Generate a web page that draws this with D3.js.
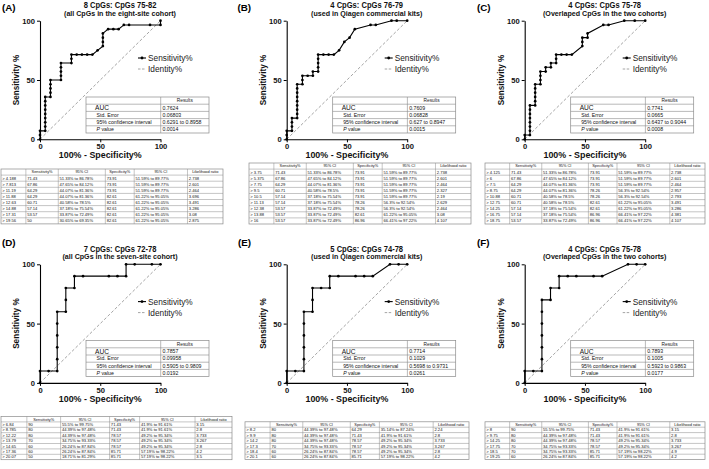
<!DOCTYPE html>
<html>
<head>
<meta charset="utf-8">
<script src="https://cdn.jsdelivr.net/npm/d3@7/dist/d3.min.js"></script>
<style>
  body { margin: 0; background: #fff; }
  svg { display: block; }
  text { font-family: "Liberation Sans", Arial, Helvetica, sans-serif; }
</style>
</head>
<body>
<svg id="chart" width="709" height="469"></svg>
<script>
// ---- data ----
var panelLetters = ["(A)", "(B)", "(C)", "(D)", "(E)", "(F)"]
var titles = ["8 CpGs: CpGs 75-82", "4 CpGs: CpGs 76-79", "4 CpGs: CpGs 75-78",
              "7 CpGs: CpGs 72-78", "5 CpGs: CpGs 74-78", "4 CpGs: CpGs 75-78"]
var subtitles = ["(all CpGs in the eight-site cohort)", "(used in Qiagen commercial kits)",
                 "(Overlaped CpGs in the two cohorts)", "(all CpGs in the seven-site cohort)",
                 "(used in Qiagen commercial kits)", "(Overlaped CpGs in the two cohorts)"]

// number of cases / controls behind each curve
var nCases = [28, 28, 28, 10, 10, 10]
var nControls = [23, 23, 23, 14, 14, 14]

// ROC points as [false positives, true positives]
var rocA = [[0,0],[0,1],[0,2],[1,2],[1,3],[1,4],[1,5],[1,6],[1,7],[1,8],[1,9],[1,10],[2,10],[2,11],[2,12],[2,13],[2,14],
            [4,14],[4,15],[4,16],[4,17],[4,18],[6,18],[6,19],[6,20],[7,20],[8,20],[9,20],[10,20],[11,21],[12,22],[12,23],
            [12,24],[12,25],[13,26],[14,26],[15,26],[16,27],[17,27],[21,27],[23,27],[23,28]]
var rocB = [[0,0],[0,1],[0,2],[1,2],[1,3],[1,4],[1,5],[2,5],[2,6],[2,7],[2,8],[2,9],[2,10],[2,11],[2,12],[2,13],
            [3,13],[3,14],[3,15],[4,15],[5,15],[5,16],[6,16],[6,17],[6,18],[6,19],[6,20],[7,20],[8,20],[9,20],
            [10,21],[11,23],[12,24],[13,26],[16,27],[17,27],[20,28],[21,28],[23,28]]
var rocC = [[0,0],[0,1],[1,1],[1,2],[1,3],[1,4],[1,5],[1,6],[1,7],[1,8],[2,8],[2,9],[2,10],[2,11],[2,12],[2,13],
            [3,13],[3,14],[3,15],[3,16],[4,16],[4,17],[5,17],[5,18],[6,18],[6,19],[6,20],[7,20],[8,20],[9,20],
            [11,22],[11,23],[11,24],[12,24],[12,25],[15,27],[16,27],[19,28],[21,28],[23,28]]
var rocD = [[0,0],[0,1],[1,1],[2,1],[2,2],[2,3],[2,4],[2,5],[2,6],[3,6],[3,7],[3,8],[4,8],[4,9],[5,9],[8,9],[9,9],
            [10,9],[10,10],[11,10],[13,10],[14,10]]
var rocE = [[0,0],[0,1],[1,1],[2,1],[2,2],[2,3],[2,4],[2,5],[2,6],[3,6],[3,7],[3,8],[4,8],[5,8],[5,9],[6,9],[8,9],
            [9,9],[10,9],[12,10],[13,10],[14,10]]
var rocF = [[0,0],[0,1],[1,1],[2,1],[2,2],[2,3],[2,4],[2,5],[2,6],[2,7],[3,7],[3,8],[4,8],[4,9],[5,9],[6,9],[8,9],
            [9,9],[12,10],[13,10],[14,10]]

// area under curve results
var aucValues = ["0.7624", "0.7609", "0.7741", "0.7857", "0.7714", "0.7893"]
var stdErrors = ["0.06803", "0.06828", "0.0665", "0.09958", "0.1029", "0.1005"]
var ciRanges = ["0.6291 to 0.8958", "0.627 to 0.8947", "0.6437 to 0.9044",
                "0.5905 to 0.9809", "0.5698 to 0.9731", "0.5923 to 0.9863"]
var pValues = ["0.0014", "0.0015", "0.0008", "0.0192", "0.0261", "0.0177"]

// cut-off tables
var tableHeader = ["", "Sensitivity%", "95% CI", "Specificity%", "95% CI", "Likelihood ratio"]
var tableA = [
  ["> 4.188", "71.43", "51.33% to 86.78%", "73.91", "51.59% to 89.77%", "2.738"],
  ["> 7.813", "67.86", "47.65% to 84.12%", "73.91", "51.59% to 89.77%", "2.601"],
  ["> 11.19", "64.29", "44.07% to 81.36%", "73.91", "51.59% to 89.77%", "2.464"],
  ["> 11.88", "64.29", "44.07% to 81.36%", "82.61", "61.22% to 95.05%", "3.696"],
  ["> 12.63", "60.71", "40.58% to 78.5%", "82.61", "61.22% to 95.05%", "3.491"],
  ["> 14.88", "57.14", "37.18% to 75.54%", "82.61", "61.22% to 95.05%", "3.286"],
  ["> 17.31", "53.57", "33.87% to 72.49%", "82.61", "61.22% to 95.05%", "3.08"],
  ["> 19.56", "50", "30.65% to 69.35%", "82.61", "61.22% to 95.05%", "2.875"]]
var tableB = [
  ["> 3.75", "71.43", "51.33% to 86.78%", "73.91", "51.59% to 89.77%", "2.738"],
  ["> 5.375", "67.86", "47.65% to 84.12%", "73.91", "51.59% to 89.77%", "2.601"],
  ["> 7.75", "64.29", "44.07% to 81.36%", "73.91", "51.59% to 89.77%", "2.464"],
  ["> 9.5", "60.71", "40.58% to 78.5%", "73.91", "51.59% to 89.77%", "2.327"],
  ["> 10.5", "57.14", "37.18% to 75.54%", "73.91", "51.59% to 89.77%", "2.19"],
  ["> 11.13", "57.14", "37.18% to 75.54%", "78.26", "56.3% to 92.54%", "2.629"],
  ["> 12.38", "53.57", "33.87% to 72.49%", "78.26", "56.3% to 92.54%", "2.464"],
  ["> 13.88", "53.57", "33.87% to 72.49%", "82.61", "61.22% to 95.05%", "3.08"],
  ["> 16", "53.57", "33.87% to 72.49%", "86.96", "66.41% to 97.22%", "4.107"]]
var tableC = [
  ["> 4.125", "71.43", "51.33% to 86.78%", "73.91", "51.59% to 89.77%", "2.738"],
  ["> 6", "67.86", "47.65% to 84.12%", "73.91", "51.59% to 89.77%", "2.601"],
  ["> 7.5", "64.29", "44.07% to 81.36%", "73.91", "51.59% to 89.77%", "2.464"],
  ["> 8.75", "64.29", "44.07% to 81.36%", "78.26", "56.3% to 92.54%", "2.957"],
  ["> 10.88", "60.71", "40.58% to 78.5%", "78.26", "56.3% to 92.54%", "2.793"],
  ["> 12.75", "60.71", "40.58% to 78.5%", "82.61", "61.22% to 95.05%", "3.491"],
  ["> 14.25", "57.14", "37.18% to 75.54%", "82.61", "61.22% to 95.05%", "3.286"],
  ["> 16.75", "57.14", "37.18% to 75.54%", "86.96", "66.41% to 97.22%", "4.381"],
  ["> 18.75", "53.57", "33.87% to 72.49%", "86.96", "66.41% to 97.22%", "4.107"]]
var tableD = [
  ["> 6.84", "90", "55.5% to 99.75%", "71.43", "41.9% to 91.61%", "3.15"],
  ["> 8.785", "80", "44.39% to 97.48%", "71.43", "41.9% to 91.61%", "2.8"],
  ["> 12.22", "80", "44.39% to 97.48%", "78.57", "49.2% to 95.34%", "3.733"],
  ["> 13.79", "70", "34.75% to 93.33%", "78.57", "49.2% to 95.34%", "3.267"],
  ["> 14.65", "60", "26.24% to 87.84%", "78.57", "49.2% to 95.34%", "2.8"],
  ["> 17.36", "60", "26.24% to 87.84%", "85.71", "57.19% to 98.22%", "4.2"],
  ["> 20.07", "50", "18.71% to 81.29%", "85.71", "57.19% to 98.22%", "3.5"]]
var tableE = [
  ["> 8.2", "80", "44.39% to 97.48%", "64.29", "35.14% to 87.24%", "2.24"],
  ["> 9.9", "80", "44.39% to 97.48%", "71.43", "41.9% to 91.61%", "2.8"],
  ["> 14.2", "80", "44.39% to 97.48%", "78.57", "49.2% to 95.34%", "3.733"],
  ["> 17.3", "70", "34.75% to 93.33%", "78.57", "49.2% to 95.34%", "3.267"],
  ["> 18.4", "60", "26.24% to 87.84%", "78.57", "49.2% to 95.34%", "2.8"],
  ["> 20.1", "60", "26.24% to 87.84%", "85.71", "57.19% to 98.22%", "4.2"]]
var tableF = [
  ["> 8", "90", "55.5% to 99.75%", "71.43", "41.9% to 91.61%", "3.15"],
  ["> 9.75", "80", "44.39% to 97.48%", "71.43", "41.9% to 91.61%", "2.8"],
  ["> 14.25", "80", "44.39% to 97.48%", "78.57", "49.2% to 95.34%", "3.733"],
  ["> 17.75", "70", "34.75% to 93.33%", "78.57", "49.2% to 95.34%", "3.267"],
  ["> 18.5", "70", "34.75% to 93.33%", "85.71", "57.19% to 98.22%", "4.9"],
  ["> 19.25", "60", "26.24% to 87.84%", "85.71", "57.19% to 98.22%", "4.2"]]

var rocs = [rocA, rocB, rocC, rocD, rocE, rocF]
var tables = [tableA, tableB, tableC, tableD, tableE, tableF]

// ---- layout ----
var plotW = 120.5, plotH = 118.6
var origins = [[40, 20.7], [286.7, 20.7], [524.7, 20.7], [40, 264.3], [286.7, 264.3], [524.7, 264.3]]
var letterPos = [[2, 10.5], [237.5, 10.5], [477, 10.5], [2, 245.5], [238, 245.5], [477, 245.5]]
// x, y, width, row height
var tableBoxes = [[1, 169, 222, 6.1], [249, 163, 222, 6.1], [485, 163, 220, 6.1],
                  [1, 416.5, 231, 5.4], [245, 421.8, 224, 5.4], [485, 421.8, 220, 5.4]]
var colFracs = [0, 0.112, 0.258, 0.47, 0.6, 0.84, 1]
var gridColor = "#8a8a8a"

var svg = d3.select("#chart")
svg.append("rect").attr("width", 709).attr("height", 469).attr("fill", "#fff")

function squeeze(sel, f) {
  sel.each(function () {
    var w = this.getComputedTextLength()
    d3.select(this).attr("textLength", w * f).attr("lengthAdjust", "spacingAndGlyphs")
  })
}

function drawResults(g, x, y, i) {
  var w = 123, split = 74.7, rh = 7.2
  var rows = [["", "Results"], ["AUC", aucValues[i]], ["Std. Error", stdErrors[i]],
              ["95% confidence interval", ciRanges[i]], ["P value", pValues[i]]]
  g.append("rect").attr("x", x).attr("y", y).attr("width", w).attr("height", rh * rows.length)
    .attr("fill", "#fff").attr("stroke", gridColor).attr("stroke-width", 0.7)
  for (var r = 1; r < rows.length; r++) {
    g.append("line").attr("x1", x).attr("x2", x + w).attr("y1", y + r * rh).attr("y2", y + r * rh)
      .attr("stroke", gridColor).attr("stroke-width", 0.6)
  }
  g.append("line").attr("x1", x + split).attr("x2", x + split).attr("y1", y).attr("y2", y + rh * rows.length)
    .attr("stroke", gridColor).attr("stroke-width", 0.6)
  rows.forEach(function (row, r) {
    var cy = y + r * rh + rh / 2
    if (r === 0) {
      g.append("text").attr("x", x + split + (w - split) / 2).attr("y", cy).attr("dy", "0.35em")
        .attr("text-anchor", "middle").attr("font-size", 4.8).attr("fill", "#222").text(row[1])
      return
    }
    var lab = g.append("text").attr("x", x + (r === 1 ? 9 : 10.5)).attr("y", cy).attr("dy", "0.35em")
      .attr("font-size", r === 1 ? 6.6 : 5.2).attr("fill", "#111")
    if (r === 4) {
      lab.append("tspan").attr("font-style", "italic").text("P")
      lab.append("tspan").text(" value")
    } else {
      lab.text(row[0])
    }
    g.append("text").attr("x", x + split + 1.8).attr("y", cy).attr("dy", "0.35em")
      .attr("font-size", 5.2).attr("fill", "#111").text(row[1])
  })
}

function drawTable(box, rows) {
  var x = box[0], y = box[1], w = box[2], rh = box[3]
  var g = svg.append("g")
  var all = [tableHeader].concat(rows)
  var h = rh * all.length
  g.append("rect").attr("x", x).attr("y", y).attr("width", w).attr("height", h)
    .attr("fill", "#fff").attr("stroke", gridColor).attr("stroke-width", 0.7)
  for (var r = 1; r < all.length; r++) {
    g.append("line").attr("x1", x).attr("x2", x + w).attr("y1", y + r * rh).attr("y2", y + r * rh)
      .attr("stroke", gridColor).attr("stroke-width", 0.5)
  }
  colFracs.slice(1, -1).forEach(function (f) {
    g.append("line").attr("x1", x + f * w).attr("x2", x + f * w).attr("y1", y).attr("y2", y + h)
      .attr("stroke", gridColor).attr("stroke-width", 0.5)
  })
  all.forEach(function (row, r) {
    row.forEach(function (cell, c) {
      var cx0 = x + colFracs[c] * w, cx1 = x + colFracs[c + 1] * w
      g.append("text")
        .attr("x", r === 0 ? (cx0 + cx1) / 2 : cx0 + 1.3)
        .attr("y", y + r * rh + rh / 2).attr("dy", "0.36em")
        .attr("text-anchor", r === 0 ? "middle" : "start")
        .attr("font-size", r === 0 ? 3.9 : 4.1).attr("fill", "#111")
        .text(cell)
    })
  })
}

rocs.forEach(function (roc, i) {
  var x0 = origins[i][0], yTop = origins[i][1]
  var x = d3.scaleLinear().domain([0, 100]).range([x0, x0 + plotW])
  var y = d3.scaleLinear().domain([0, 100]).range([yTop + plotH, yTop])
  var g = svg.append("g")

  // panel letter and titles
  g.append("text").attr("x", letterPos[i][0]).attr("y", letterPos[i][1])
    .attr("font-size", 9.8).attr("font-weight", "bold").text(panelLetters[i])
  var t1 = g.append("text").attr("x", x0 + 80).attr("y", yTop - 12.8).attr("text-anchor", "middle")
    .attr("font-size", 8.8).attr("font-weight", "bold").attr("fill", "#111").text(titles[i])
  squeeze(t1, 0.86)
  g.append("text").attr("x", x0 + 80).attr("y", yTop - 5).attr("text-anchor", "middle")
    .attr("font-size", 7.1).attr("font-weight", "bold").attr("fill", "#111").text(subtitles[i])

  // identity line
  g.append("line").attr("x1", x(0)).attr("y1", y(0)).attr("x2", x(100)).attr("y2", y(100))
    .attr("stroke", "#9a9a9a").attr("stroke-width", 0.9).attr("stroke-dasharray", "3,2")

  // ROC curve
  var pts = roc.map(function (d) { return [d[0] / nControls[i] * 100, d[1] / nCases[i] * 100] })
  var line = d3.line().x(function (d) { return x(d[0]) }).y(function (d) { return y(d[1]) })
  g.append("path").attr("d", line(pts)).attr("fill", "none").attr("stroke", "#000").attr("stroke-width", 1.1)
  g.selectAll(".dot").data(pts).enter().append("circle")
    .attr("cx", function (d) { return x(d[0]) }).attr("cy", function (d) { return y(d[1]) })
    .attr("r", 1.35).attr("fill", "#000")

  // axes
  var xAxis = g.append("g").attr("transform", "translate(0," + y(0) + ")")
    .call(d3.axisBottom(x).tickValues([0, 50, 100]).tickSize(3).tickSizeOuter(0).tickPadding(1.5))
  var yAxis = g.append("g").attr("transform", "translate(" + x(0) + ",0)")
    .call(d3.axisLeft(y).tickValues([0, 50, 100]).tickSize(3).tickSizeOuter(0).tickPadding(2))
  ;[xAxis, yAxis].forEach(function (a) {
    a.select(".domain").attr("stroke", "#000").attr("stroke-width", 1.1)
    a.selectAll(".tick line").attr("stroke", "#000").attr("stroke-width", 1)
    a.selectAll(".tick text").attr("font-size", 7.6).attr("font-weight", "bold").attr("fill", "#111")
      .attr("font-family", null)
  })

  // axis titles
  g.append("text").attr("x", x(50)).attr("y", y(0) + 18.8).attr("text-anchor", "middle")
    .attr("font-size", 8.9).attr("font-weight", "bold").attr("fill", "#111").text("100% - Specificity%")
  g.append("text").attr("transform", "translate(" + (x0 - 21) + "," + y(50) + ") rotate(-90)")
    .attr("text-anchor", "middle").attr("font-size", 8.2).attr("font-weight", "bold").attr("fill", "#111")
    .text("Sensitivity %")

  // legend
  var ly1 = yTop + 37.3, ly2 = yTop + 48.3
  g.append("line").attr("x1", x0 + 98).attr("x2", x0 + 106).attr("y1", ly1).attr("y2", ly1)
    .attr("stroke", "#000").attr("stroke-width", 1.1)
  g.append("circle").attr("cx", x0 + 102).attr("cy", ly1).attr("r", 1.4).attr("fill", "#000")
  g.append("text").attr("x", x0 + 108).attr("y", ly1).attr("dy", "0.35em")
    .attr("font-size", 8.3).attr("fill", "#222").text("Sensitivity%")
  g.append("line").attr("x1", x0 + 98).attr("x2", x0 + 106).attr("y1", ly2).attr("y2", ly2)
    .attr("stroke", "#9a9a9a").attr("stroke-width", 0.9).attr("stroke-dasharray", "2.5,1.5")
  g.append("text").attr("x", x0 + 108).attr("y", ly2).attr("dy", "0.35em")
    .attr("font-size", 8.3).attr("fill", "#222").text("Identity%")

  drawResults(g, x0 + 46, yTop + 76.3, i)
  drawTable(tableBoxes[i], tables[i])
})
</script>
</body>
</html>
